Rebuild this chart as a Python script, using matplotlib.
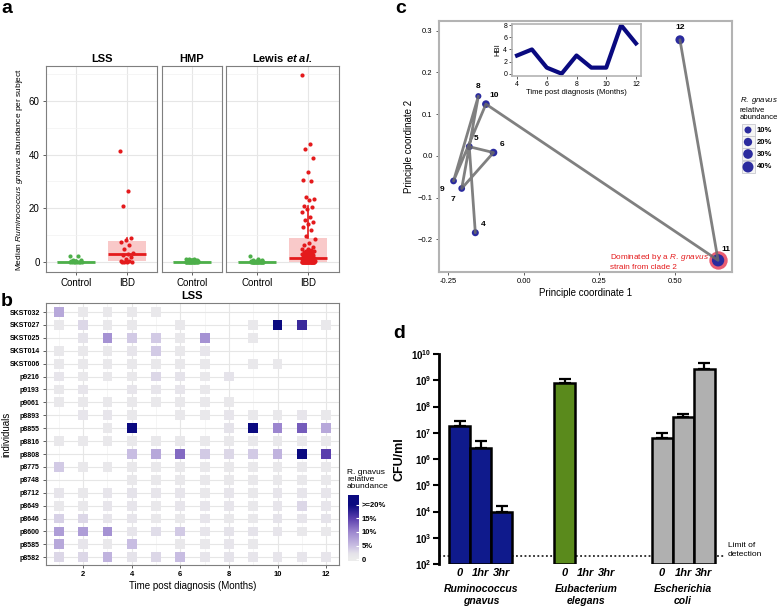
import numpy as np
import matplotlib
matplotlib.use("Agg")
import matplotlib.pyplot as plt
import matplotlib.transforms as mtransforms
from matplotlib.colors import LinearSegmentedColormap
from matplotlib.patches import Rectangle
from matplotlib.ticker import NullLocator, FixedLocator

W, H = 778, 607
plt.rcParams['font.family'] = ['Liberation Sans', 'DejaVu Sans']
plt.rcParams['mathtext.fontset'] = 'custom'
plt.rcParams['mathtext.rm'] = 'Liberation Sans'
plt.rcParams['mathtext.it'] = 'Liberation Sans:italic'
plt.rcParams['mathtext.bf'] = 'Liberation Sans:bold'
plt.rcParams['mathtext.bfit'] = 'Liberation Sans:italic:bold'

# ---------------- panel a data (median R. gnavus abundance per subject) ----------------
lss_ctrl = [2.3, 2.2, 0.9, 0.6, 0.4, 0.3, 0.2, 0.1, 0.1, 0.0, 0.0, 0.0, 0.0, 0.0]
lss_ibd = [41.5, 26.5, 20.9, 8.9, 8.3, 7.6, 6.3, 4.8, 3.5, 2.9, 2.6, 2.0, 1.2,
           0.4, 0.3, 0.2, 0.1, 0.0, 0.0]
hmp_ctrl = [1.3, 1.1, 1.0, 0.9, 0.8, 0.7, 0.6, 0.5, 0.5, 0.4, 0.3, 0.3, 0.2, 0.2,
            0.1, 0.1, 0.1, 0.0, 0.0, 0.0, 0.0, 0.0, 0.0, 0.0, 0.0, 0.0, 0.0, 0.0, 0.0]
lewis_ctrl = [2.1, 1.2, 0.9, 0.7, 0.5, 0.4, 0.3, 0.2, 0.2, 0.1, 0.1, 0.1,
              0.0, 0.0, 0.0, 0.0, 0.0, 0.0, 0.0, 0.0, 0.0, 0.0, 0.0, 0.0, 0.0, 0.0]
lewis_ibd = [69.7, 43.9, 42.2, 38.6, 33.7, 30.5, 30.2, 24.1, 23.4, 23.0, 21.0, 20.5,
             19.7, 18.8, 16.9, 15.6, 14.8, 14.0, 13.2, 11.9, 9.7, 8.6, 7.0, 6.2, 5.5,
             5.0, 4.8, 4.6, 4.2, 4.0, 3.9, 3.6, 3.5, 3.3, 3.1, 2.8, 2.6, 2.5, 2.2, 2.0,
             1.8, 1.6, 1.5, 1.4, 1.3, 1.2, 1.1, 1.0, 0.9, 0.8, 0.7, 0.6, 0.5, 0.5,
             0.4, 0.4, 0.3, 0.3, 0.2, 0.2, 0.2, 0.1, 0.1, 0.1, 0.1, 0.0, 0.0, 0.0,
             0.0, 0.0, 0.0, 0.0, 0.0, 0.0, 0.0, 0.0, 0.0, 0.0, 0.0, 0.0, 0.0, 0.0, 0.0, 0.0]

# ---------------- panel b data (LSS heatmap, % R. gnavus) ----------------
individuals = ['SKST032', 'SKST027', 'SKST025', 'SKST014', 'SKST006', 'p9216', 'p9193',
               'p9061', 'p8893', 'p8855', 'p8816', 'p8808', 'p8775', 'p8748', 'p8712',
               'p8649', 'p8646', 'p8600', 'p8585', 'p8582']
months_b = list(range(1, 13))
n = np.nan
heat = [
    [7, 1, 1, 1, 1, n, n, n, n, n, n, n],
    [1, 3, 1, 1, n, 1, n, n, 1, 25, 17, 1],
    [n, 2, 9, 4, 4, 1, 9, n, 1, n, n, n],
    [1, 1, 1, 1.5, 4, 1, 1.5, n, n, n, n, n],
    [1, 1, 1, 1, 1, 1, 1, n, 1, 1, n, n],
    [1.5, 1, 1, 1, 3, 2, 1, 2, n, n, n, n],
    [1, 1.5, n, 1.5, 1.5, 1.5, 1, n, n, n, n, n],
    [1, 1, 1, 1, 1, 1, 1, 1, n, n, n, n],
    [n, 1.5, 1.5, 1, n, 1, 1, 1.5, 1, 1, 1.5, 1],
    [n, n, 1, 25, n, n, n, 2, 25, 10, 13, 7],
    [1, 1, 1, 1, 1, 1, 1, 1, 1, 1, 1, 1],
    [n, n, n, 5, 7, 12, 4, 3, 4, 6, 25, 15],
    [4, 1, 1, 1, 1, 1, 1, 1, 1, 1, 1, 1],
    [n, n, n, 1, 1, 1, 1, 1, 1, 1, 1, 1],
    [1.5, 1, 1.5, 2, 1.5, 1.5, 1, 1.5, 1, 1.5, 1.5, 1.5],
    [1, 1, 1.5, 1.5, 1, 1.5, 1.5, 1.5, 1, 1.5, 3, 1.5],
    [3.5, 3, 1.5, 1.5, 1, 1, 1.5, 1, 1, 2, 1.5, 2],
    [8, 8, 9, 1.5, 2.5, 4, 1.5, 2, 2, 1.5, 1, 1],
    [7, 1.5, 1, 5, n, 1, 1, 1.5, 1, n, n, n],
    [3, 3, 6, 2, 3, 5, 1.5, 2, 1.5, 1.5, 1.5, 1.5],
]

# ---------------- panel c data (PCoA trajectory) ----------------
months_c = [4, 5, 6, 7, 8, 9, 10, 11, 12]
pc1 = [-0.16, -0.18, -0.10, -0.205, -0.15, -0.232, -0.125, 0.642, 0.516]
pc2 = [-0.184, 0.022, 0.008, -0.078, 0.143, -0.06, 0.124, -0.25, 0.278]
rg_abund = [10, 10, 15, 8, 3, 8, 15, 50, 25]
hbi = [3, 4, 1, 0, 3, 1, 1, 8, 5]
size_levels = [10, 20, 30, 40]

# ---------------- panel d data (CFU/ml) ----------------
timepoints = ['0', '1hr', '3hr']
species = ['Ruminococcus\ngnavus', 'Eubacterium\nelegans', 'Escherichia\ncoli']
cfu_rg = [1.8e7, 2.7e6, 9.6e3]
cfu_ee = [7.6e8, np.nan, np.nan]
cfu_ec = [6.2e6, 3.9e7, 2.8e9]
err_rg = [2.8e7, 5.0e6, 1.6e4]
err_ee = [1.1e9, np.nan, np.nan]
err_ec = [1.0e7, 5.0e7, 4.7e9]
detection_limit = 200

fig = plt.figure(figsize=(W / 100, H / 100), dpi=100)


def px_axes(x0, y0, x1, y1):
    return fig.add_axes([x0 / W, 1 - y1 / H, (x1 - x0) / W, (y1 - y0) / H])


def gg_frame(ax, color='#7f7f7f', lw=0.8):
    for s in ax.spines.values():
        s.set_color(color)
        s.set_linewidth(lw)


def dot_size(pct):
    # ggplot-like size scale: diameter grows linearly with abundance
    diam_px = 5.67 + 0.133 * np.asarray(pct, dtype=float)
    return (diam_px * 0.72) ** 2


GREEN, RED = '#4daf4a', '#e41a1c'

# ======================= panel a =======================
facets = [
    ((46, 157), 'LSS', [(lss_ctrl, GREEN, '#d3ecd2'), (lss_ibd, RED, '#f9c9c9')]),
    ((162, 222), 'HMP', [(hmp_ctrl, GREEN, '#d3ecd2')]),
    ((226, 339), r'Lewis $\mathbfit{et\ al.}$', [(lewis_ctrl, GREEN, '#d3ecd2'), (lewis_ibd, RED, '#f9c9c9')]),
]
for k, ((x0, x1), title, groups) in enumerate(facets):
    ax = px_axes(x0, 66, x1, 272)
    ax.set_ylim(-3.7, 73)
    ax.set_xlim(0.4, len(groups) + 0.6)
    ax.set_yticks([0, 20, 40, 60])
    ax.set_yticks([10, 30, 50, 70], minor=True)
    ax.set_xticks(range(1, len(groups) + 1))
    ax.set_xticklabels(['Control', 'IBD'][:len(groups)], fontsize=7)
    ax.grid(True, which='major', color='#e6e6e6', lw=0.8)
    ax.grid(True, which='minor', axis='y', color='#f2f2f2', lw=0.5)
    ax.set_axisbelow(True)
    ax.tick_params(length=2.5, width=0.6, color='#444444', labelsize=7, pad=2)
    ax.tick_params(which='minor', length=0)
    if k > 0:
        ax.set_yticklabels([])
        ax.tick_params(axis='y', length=0)
    gg_frame(ax)
    ax.set_title(title, fontsize=8, fontweight='bold', pad=3)
    for i, (vals, col, fill) in enumerate(groups):
        pos = i + 1
        ax.boxplot(vals, positions=[pos], widths=0.75, patch_artist=True, showfliers=False,
                   showcaps=False, boxprops=dict(facecolor=fill, edgecolor='none'),
                   medianprops=dict(color=col, lw=2), whiskerprops=dict(color=col, lw=1.2),
                   zorder=2, manage_ticks=False)
        jit = ((np.arange(len(vals)) * 0.618) % 1 - 0.5) * 0.26
        ax.scatter(pos + jit, vals, s=9, color=col, lw=0, zorder=3)
    if k == 0:
        ax.set_ylabel(r'Median $\it{Ruminococcus\ gnavus}$ abundance per subject',
                      fontsize=6, labelpad=3)

# ======================= panel b =======================
heat_cmap = LinearSegmentedColormap.from_list(
    'rg', [(0.0, '#ececec'), (0.1, '#e5e3ea'), (0.25, '#c8bde2'), (0.5, '#9d87cf'),
           (0.75, '#5b3fae'), (1.0, '#0b0a80')])
ax_b = px_axes(46, 303, 339, 565)
heat_arr = np.array(heat, dtype=float)
nrow = len(individuals)
xs, ys, cs = [], [], []
for r in range(nrow):
    for c, m in enumerate(months_b):
        if not np.isnan(heat_arr[r, c]):
            xs.append(m)
            ys.append(nrow - 1 - r)
            cs.append(heat_arr[r, c])
ax_b.scatter(xs, ys, c=cs, cmap=heat_cmap, vmin=0, vmax=20, marker='s', s=50, lw=0, zorder=3)
ax_b.set_xlim(0.47, 12.53)
ax_b.set_ylim(-0.6, nrow - 0.3)
ax_b.set_xticks([2, 4, 6, 8, 10, 12])
ax_b.set_xticks([1, 3, 5, 7, 9, 11], minor=True)
ax_b.set_yticks(range(nrow))
ax_b.set_yticklabels(individuals[::-1], fontsize=5, fontweight='bold')
ax_b.grid(True, which='major', color='#e6e6e6', lw=0.8)
ax_b.grid(True, which='minor', axis='x', color='#f2f2f2', lw=0.5)
ax_b.set_axisbelow(True)
ax_b.tick_params(length=2.5, width=0.6, color='#444444', labelsize=5.5, pad=2)
ax_b.tick_params(axis='y', labelsize=5)
ax_b.tick_params(which='minor', length=0)
for lab in ax_b.get_xticklabels():
    lab.set_fontweight('bold')
gg_frame(ax_b)
ax_b.set_title('LSS', fontsize=8, fontweight='bold', pad=3)
ax_b.set_xlabel('Time post diagnosis (Months)', fontsize=7, labelpad=2)
ax_b.set_ylabel('individuals', fontsize=7)
ax_b.yaxis.set_label_coords(-0.118, 0.5)

# colour legend
cax = px_axes(348, 495, 359, 561)
grad = np.linspace(-0.7, 23.6, 200)[:, None]
cax.imshow(grad, aspect='auto', cmap=heat_cmap, vmin=0, vmax=20, origin='lower',
           extent=[0, 1, -0.7, 23.6])
cax.set_xlim(0, 1)
cax.set_ylim(-0.7, 23.6)
cax.set_xticks([])
cax.yaxis.tick_right()
cax.set_yticks([0, 5, 10, 15, 20])
cax.set_yticklabels(['0', '5%', '10%', '15%', '>=20%'], fontsize=5.5, fontweight='bold')
cax.tick_params(axis='y', length=2.5, color='white', direction='in', pad=2)
for s in cax.spines.values():
    s.set_visible(False)
fig.text(347 / W, 1 - 469 / H, 'R. gnavus\nrelative\nabundance', fontsize=6,
         va='top', ha='left', linespacing=1.05)

# ======================= panel c =======================
ax_c = px_axes(439, 21, 732, 272)
ax_c.set_xlim(-0.28, 0.688)
ax_c.set_ylim(-0.278, 0.323)
ax_c.scatter(pc1[7:8], pc2[7:8], s=175, color='#e8405a', alpha=0.85, lw=0, zorder=2)
ax_c.scatter(pc1, pc2, s=dot_size(rg_abund), color='#2b2b9e', lw=0, zorder=3)
ax_c.plot(pc1, pc2, color='#6a6a6a', alpha=0.85, lw=2, zorder=4, solid_capstyle='round')
label_off = [(6, 6), (5, 6), (6, 6), (-6, -8), (0, 7), (-8, -6), (6, 6), (6, 8), (0, 9)]
for m, x, y, off in zip(months_c, pc1, pc2, label_off):
    ax_c.annotate(str(m), (x, y), xytext=off, textcoords='offset points', fontsize=6,
                  fontweight='bold', ha='center', va='center', zorder=5)
ax_c.text(0.285, -0.231, r'Dominated by a $\it{R.\ gnavus}$' + '\nstrain from clade 2',
          color='#e41a1c', fontsize=5.9, ha='left', va='top', linespacing=1.12)
ax_c.set_xticks([-0.25, 0.0, 0.25, 0.5])
ax_c.set_xticklabels(['-0.25', '0.00', '0.25', '0.50'])
ax_c.set_yticks([-0.2, -0.1, 0.0, 0.1, 0.2, 0.3])
ax_c.tick_params(length=2.5, width=0.6, color='#444444', labelsize=5.5, pad=2)
gg_frame(ax_c, '#b3b3b3', 1.5)
ax_c.set_xlabel('Principle coordinate 1', fontsize=7, labelpad=2)
ax_c.set_ylabel('Principle coordinate 2', fontsize=7, labelpad=3)

# inset HBI
ax_in = px_axes(512, 24, 641, 76)
ax_in.plot(months_c, hbi, color='#0a0a80', lw=3)
ax_in.set_xlim(3.66, 12.34)
ax_in.set_ylim(-0.38, 8.2)
ax_in.set_xticks([4, 6, 8, 10, 12])
ax_in.set_yticks([0, 2, 4, 6, 8])
ax_in.tick_params(length=2, width=0.6, color='#444444', labelsize=5, pad=1.5)
gg_frame(ax_in, '#b3b3b3', 1.2)
ax_in.set_xlabel('Time post diagnosis (Months)', fontsize=5.5, labelpad=1)
ax_in.set_ylabel('HBI', fontsize=5.5, labelpad=1)

# size legend
ax_leg = px_axes(738, 92, 778, 178)
ax_leg.set_xlim(738, 778)
ax_leg.set_ylim(178, 92)
ax_leg.axis('off')
ax_leg.text(740, 95, r'$\it{R.\ gnavus}$' + '\nrelative\nabundance', fontsize=5.6,
            va='top', ha='left', linespacing=1.1)
key_y = [130, 142, 154, 167]
for lvl, ky in zip(size_levels, key_y):
    ax_leg.add_patch(Rectangle((741.5, ky - 6), 13, 12, fc='#f4f4f4', ec='#c8c8d0', lw=0.6))
    ax_leg.text(757, ky, f'{lvl}%', fontsize=5.5, va='center', ha='left', fontweight='bold')
ax_leg.scatter([748] * len(key_y), key_y, s=dot_size(size_levels), color='#2b2b9e', lw=0,
               clip_on=False)

# ======================= panel d =======================
ax_d = px_axes(439, 354, 725, 564)
ax_d.set_yscale('log')
ax_d.set_ylim(1e2, 1e10)
ax_d.set_xlim(-1, 12.62)
group_pos = [[0, 1, 2], [5, 6, 7], [9.62, 10.62, 11.62]]
group_vals = [cfu_rg, cfu_ee, cfu_ec]
group_err = [err_rg, err_ee, err_ec]
group_col = ['#0f1a8c', '#5a8a1c', '#b0b0b0']
ax_d.axhline(detection_limit, color='black', ls=(0, (1.2, 1.6)), lw=1.1, zorder=1)
for xp, v, e, col in zip(group_pos, group_vals, group_err, group_col):
    v = np.array(v)
    e = np.array(e)
    ax_d.bar(xp, v - 1e2, bottom=1e2, width=1.0, color=col, edgecolor='black', lw=1.8, zorder=3)
    ax_d.errorbar(xp, v, yerr=[np.zeros(3), e - v], fmt='none', ecolor='black',
                  elinewidth=1.6, capsize=4, capthick=1.6, zorder=2)
all_pos = [p for g in group_pos for p in g]
ax_d.xaxis.set_major_locator(FixedLocator(all_pos))
ax_d.set_xticklabels(timepoints * 3, fontsize=8, fontweight='bold', style='italic')
ax_d.tick_params(axis='x', length=0, pad=3)
ax_d.set_yticks([10.0 ** k for k in range(2, 11)])
ax_d.set_yticklabels([r'$\mathbf{10^{%d}}$' % k for k in range(2, 11)], fontsize=7)
ax_d.yaxis.set_minor_locator(NullLocator())
ax_d.tick_params(axis='y', length=4, width=1.5, pad=1.5)
for side in ['top', 'right', 'bottom']:
    ax_d.spines[side].set_visible(False)
ax_d.spines['left'].set_linewidth(2)
ax_d.set_ylabel('CFU/ml', fontsize=9, fontweight='bold', labelpad=4)
trans = mtransforms.blended_transform_factory(ax_d.transData, ax_d.transAxes)
for xp, name in zip(group_pos, species):
    ax_d.text(xp[1], -0.095, name, transform=trans, ha='center', va='top', fontsize=7.5,
              fontweight='bold', style='italic', linespacing=1.25)
fig.text(728 / W, 1 - 550 / H, 'Limit of\ndetection', fontsize=6, ha='left', va='center',
         linespacing=1.3)

# panel letters
for letter, (lx, ly) in zip('abcd', [(1, 0), (1, 293), (395, 0), (393, 325)]):
    fig.text(lx / W, 1 - ly / H, letter, fontsize=14, fontweight='bold', va='top', ha='left')

fig.savefig('out.png', dpi=100)
